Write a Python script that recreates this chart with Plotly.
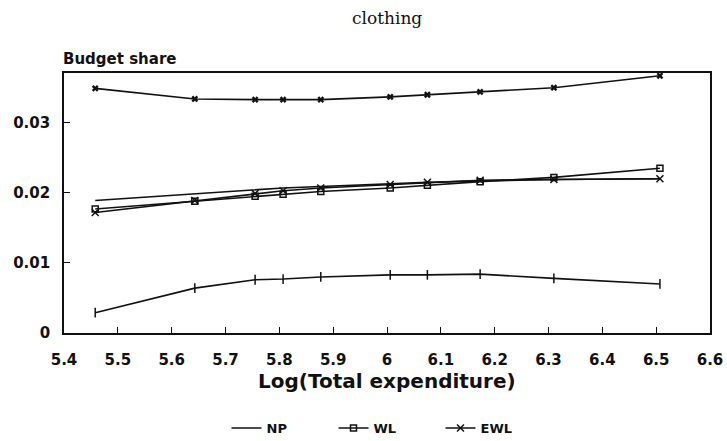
import plotly.graph_objects as go

# Data
x_vals = [5.458, 5.643, 5.755, 5.807, 5.877, 6.006, 6.075, 6.173, 6.310, 6.507]

upper_band = [0.0349, 0.0334, 0.0333, 0.0333, 0.0333, 0.0337, 0.0340, 0.0344, 0.0350, 0.0367]
np_share = [0.0189, 0.0199, 0.0205, 0.0207, 0.0209, 0.0213, 0.0215, 0.0217, 0.0219, 0.0220]
wl_share = [0.0177, 0.0188, 0.0195, 0.0198, 0.0202, 0.0207, 0.0211, 0.0216, 0.0222, 0.0235]
ewl_share = [0.0172, 0.0189, 0.0199, 0.0203, 0.0207, 0.0212, 0.0215, 0.0218, 0.0219, 0.0220]
lower_band = [0.0029, 0.0064, 0.0076, 0.0077, 0.0080, 0.0083, 0.0083, 0.0084, 0.0078, 0.0070]

x_ticks = [5.4, 5.5, 5.6, 5.7, 5.8, 5.9, 6.0, 6.1, 6.2, 6.3, 6.4, 6.5, 6.6]
x_ticktext = ["5.4", "5.5", "5.6", "5.7", "5.8", "5.9", "6", "6.1", "6.2", "6.3", "6.4", "6.5", "6.6"]
y_ticks = [0, 0.01, 0.02, 0.03]
y_ticktext = ["0", "0.01", "0.02", "0.03"]

title_text = "clothing"
y_label = "Budget share"
x_label = "Log(Total expenditure)"

BLACK = "#111111"
LW = 1.6
SANS = "DejaVu Sans, Liberation Sans, Arial, sans-serif"

fig = go.Figure()

fig.add_trace(go.Scatter(
    x=x_vals, y=upper_band, mode="lines+markers", showlegend=False,
    line=dict(color=BLACK, width=LW),
    marker=dict(symbol="x", size=6, color=BLACK),
))
fig.add_trace(go.Scatter(
    x=x_vals, y=lower_band, mode="lines+markers", showlegend=False,
    line=dict(color=BLACK, width=LW),
    marker=dict(symbol="line-ns-open", size=7, color=BLACK, line=dict(width=1.5, color=BLACK)),
))
fig.add_trace(go.Scatter(
    x=x_vals, y=np_share, mode="lines", name="NP",
    line=dict(color=BLACK, width=LW),
))
fig.add_trace(go.Scatter(
    x=x_vals, y=wl_share, mode="lines+markers", name="WL",
    line=dict(color=BLACK, width=LW),
    marker=dict(symbol="square-open", size=6, color=BLACK, line=dict(width=1.5, color=BLACK)),
))
fig.add_trace(go.Scatter(
    x=x_vals, y=ewl_share, mode="lines+markers", name="EWL",
    line=dict(color=BLACK, width=LW),
    marker=dict(symbol="x-thin-open", size=7, color=BLACK, line=dict(width=1.5, color=BLACK)),
))

axis_common = dict(
    showline=True, linecolor=BLACK, linewidth=1.6, mirror=True,
    ticks="inside", ticklen=6, tickwidth=1.4, tickcolor=BLACK,
    showgrid=False, zeroline=False,
    tickfont=dict(family=SANS, size=15, color=BLACK, weight="bold"),
)

fig.update_xaxes(range=[5.4, 6.6], tickvals=x_ticks, ticktext=x_ticktext,
                 ticklabelstandoff=12, **axis_common)
fig.update_yaxes(range=[0, 0.0371], tickvals=y_ticks, ticktext=y_ticktext,
                 ticklabelstandoff=9, **axis_common)

fig.update_layout(
    width=727, height=441,
    margin=dict(l=64, r=17, t=73, b=108, autoexpand=False),
    paper_bgcolor="white", plot_bgcolor="white",
    showlegend=True,
    legend=dict(
        orientation="h", x=0.5, xanchor="center", y=-(428 - 333) / 260, yanchor="middle",
        font=dict(family=SANS, size=13, color=BLACK, weight="bold"),
        itemwidth=30, entrywidth=62, entrywidthmode="pixels",
        tracegroupgap=0, bgcolor="rgba(0,0,0,0)",
    ),
    annotations=[
        dict(text=title_text, xref="paper", yref="paper", x=0.5, y=1 + (73 - 18) / 260,
             xanchor="center", yanchor="middle", showarrow=False,
             font=dict(family="DejaVu Serif, Liberation Serif, serif", size=17, color=BLACK)),
        dict(text=y_label, xref="paper", yref="paper", x=-3 / 646, y=1 + (73 - 59) / 260,
             xanchor="left", yanchor="middle", showarrow=False,
             font=dict(family=SANS, size=15, color=BLACK, weight="bold")),
        dict(text=x_label, xref="paper", yref="paper", x=0.5, y=-(381 - 333) / 260,
             xanchor="center", yanchor="middle", showarrow=False,
             font=dict(family=SANS, size=20, color=BLACK, weight="bold")),
    ],
)

fig.write_html("out.html")
